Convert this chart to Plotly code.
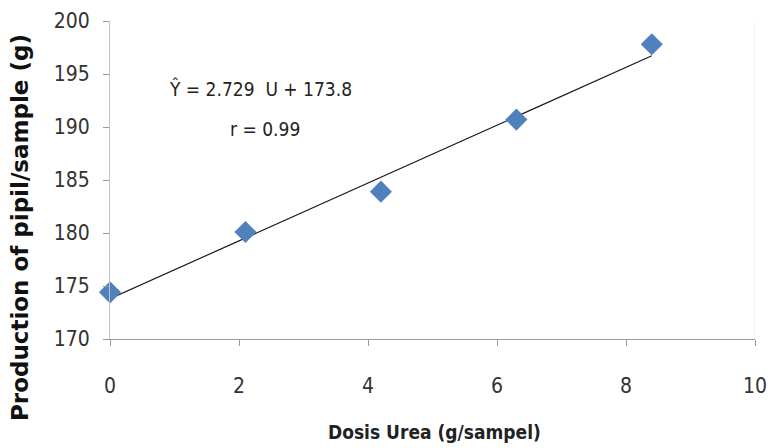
import plotly.graph_objects as go

dose = [0, 2.1, 4.2, 6.3, 8.4]
production = [174.4, 180.1, 183.9, 190.7, 197.8]
slope = 2.729
intercept = 173.8
x_ticks = [0, 2, 4, 6, 8, 10]
y_ticks = [170, 175, 180, 185, 190, 195, 200]

font_main = "Liberation Sans Narrow, DejaVu Sans Condensed, Arial Narrow, sans-serif"

trend_x = [min(dose), max(dose)]
trend_y = [slope * v + intercept for v in trend_x]

fig = go.Figure()
fig.add_trace(go.Scatter(x=trend_x, y=trend_y, mode="lines",
                         line=dict(color="#1a1a1a", width=1.2), showlegend=False,
                         hoverinfo="skip", cliponaxis=False))
fig.add_trace(go.Scatter(x=dose, y=production, mode="markers", cliponaxis=False,
                         marker=dict(symbol="diamond", size=17, color="#4F81BD",
                                     line=dict(width=0)),
                         showlegend=False))

fig.add_annotation(x=2.33, y=193.6, xref="x", yref="y",
                   text="Ŷ = 2.729  U + 173.8", showarrow=False,
                   font=dict(family=font_main, size=19, color="#222"))
fig.add_annotation(x=2.4, y=189.8, xref="x", yref="y",
                   text="r = 0.99", showarrow=False,
                   font=dict(family=font_main, size=19, color="#222"))

# axis titles as annotations for precise placement
fig.add_annotation(x=-0.1395, y=0.349, xref="paper", yref="paper",
                   text="<b>Production of pipil/sample (g)</b>", showarrow=False,
                   textangle=-90, xanchor="center", yanchor="middle",
                   font=dict(size=23, family="DejaVu Sans, Verdana, sans-serif", color="#111"))
fig.add_annotation(x=0.503, y=-0.292, xref="paper", yref="paper",
                   text="<b>Dosis Urea (g/sampel)</b>", showarrow=False,
                   xanchor="center", yanchor="middle",
                   font=dict(size=19, family=font_main, color="#222"))

# faint right border of plot area
fig.add_shape(type="line", xref="x", yref="paper", x0=10, x1=10, y0=0, y1=1,
              line=dict(color="#e6e6e6", width=1))

fig.update_layout(
    width=769, height=448,
    margin=dict(l=110, r=14, t=21, b=109),
    paper_bgcolor="white", plot_bgcolor="white",
    font=dict(family=font_main, color="#333"),
)
fig.update_xaxes(range=[0, 10], tickvals=x_ticks, ticks="outside", ticklen=6,
                 tickcolor="#999", showline=True, linecolor="#999", linewidth=1,
                 showgrid=False, zeroline=False, ticklabelstandoff=22, automargin=False,
                 tickfont=dict(size=21, family=font_main, color="#333"))
fig.update_yaxes(range=[170, 200], tickvals=y_ticks, ticks="outside", ticklen=6,
                 tickcolor="#999", showline=True, linecolor="#c4c4c4", linewidth=1,
                 showgrid=False, zeroline=False, ticklabelstandoff=9, automargin=False,
                 tickfont=dict(size=21, family=font_main, color="#333"))

fig.write_html("out.html", config={"displayModeBar": False},
               post_script="document.body.style.margin='0';document.body.style.overflow='hidden';")
